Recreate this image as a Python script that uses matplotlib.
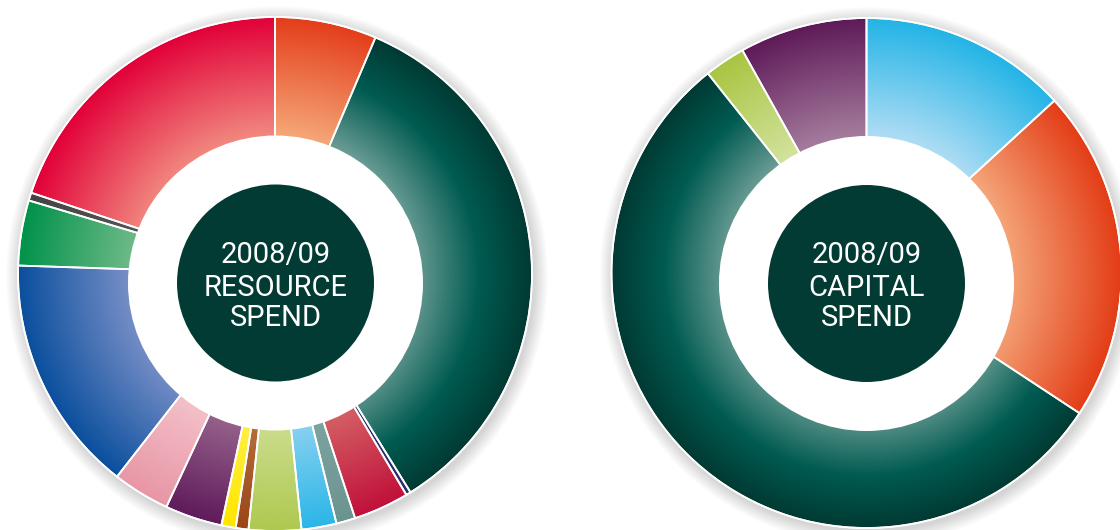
import numpy as np
import matplotlib
matplotlib.use("Agg")
import matplotlib.pyplot as plt
import matplotlib.colors as mcolors
from matplotlib.patches import Circle

# share of spend (%), clockwise from 12 o'clock
resource_share = [6.4, 34.8, 0.3, 3.5, 1.2, 2.2, 3.3, 0.8, 0.9, 3.6, 3.6, 15.0, 4.1, 0.5, 19.9]
resource_inner = ["#f5a677", "#6a9c94", "#2b2d6e", "#d66a6a", "#7fa5a1", "#95d4f2", "#cfdf95",
                  "#b87440", "#fff04a", "#9c6c92", "#f5c6cd", "#7d92c9", "#72bb8a", "#555555", "#f1877e"]
resource_mid = [None, "#005b51", None, None, None, None, None,
                None, None, None, None, None, None, None, None]
resource_outer = ["#e43d1b", "#003a33", "#2b2d6e", "#c1103a", "#6b9490", "#2ab6e7", "#aec94f",
                  "#9a4516", "#ffe600", "#5f1a5a", "#e896a6", "#0a4f9d", "#00924a", "#444444", "#e20038"]

capital_share = [13.2, 21.1, 55.1, 2.6, 8.1]
capital_inner = ["#acdcf4", "#f5a67a", "#6a9c94", "#d2e29c", "#a47a9c"]
capital_mid = [None, None, "#005b51", None, None]
capital_outer = ["#22b4e6", "#e33c16", "#003a33", "#a9c542", "#5e1a58"]

resource_title = ["2008/09", "RESOURCE", "SPEND"]
capital_title = ["2008/09", "CAPITAL", "SPEND"]

fig = plt.figure(figsize=(11.2, 5.3), dpi=100)
ax = fig.add_axes([0, 0, 1, 1])


def donut(shares, inner_cols, mid_cols, outer_cols, center, radius, hole_center, title):
    cx, cy = center
    # soft shadow round the rim
    for i in range(14):
        ax.add_patch(Circle((cx + 2, cy - 3), radius + 1 + i * 1.0, color="k",
                            alpha=0.011, lw=0, zorder=0))
    wedges, _ = ax.pie(shares, center=center, radius=radius, startangle=90,
                       counterclock=False, frame=True,
                       wedgeprops=dict(edgecolor="white", linewidth=1.3))
    n = 500
    gx = np.linspace(cx - radius, cx + radius, n)
    gy = np.linspace(cy - radius, cy + radius, n)
    xx, yy = np.meshgrid(gx, gy)
    t = np.clip((np.hypot(xx - cx, yy - cy) - 140) / (radius - 140), 0, 1)[..., None]
    for w, ci, cm, co in zip(wedges, inner_cols, mid_cols, outer_cols):
        a = np.array(mcolors.to_rgb(ci))
        b = np.array(mcolors.to_rgb(co))
        if cm is None:
            img = a * (1 - t) + b * t
        else:
            m = np.array(mcolors.to_rgb(cm))
            s1 = np.clip(t / 0.55, 0, 1)
            s2 = np.clip((t - 0.55) / 0.45, 0, 1)
            img = np.where(t < 0.55, a * (1 - s1) + m * s1, m * (1 - s2) + b * s2)
        im = ax.imshow(img, extent=(cx - radius, cx + radius, cy - radius, cy + radius),
                       origin="lower", zorder=1, interpolation="bilinear")
        im.set_clip_path(w)
        w.set_facecolor("none")
        w.set_zorder(2)
    ax.add_patch(Circle(center, radius, fill=False, ec="white", lw=1.2, zorder=2))
    ax.add_patch(Circle(hole_center, 147.5, color="white", lw=0, zorder=3))
    ax.add_patch(Circle(hole_center, 98.5, color="#013b33", lw=0, zorder=4))
    for line, y in zip(title, [267, 234.5, 203.5]):
        ax.text(hole_center[0], y, line, color="white", fontsize=21,
                ha="center", va="baseline", zorder=5, family=["Roboto", "DejaVu Sans"])


donut(resource_share, resource_inner, resource_mid, resource_outer,
      (275, 256), 257, (275.5, 247), resource_title)
donut(capital_share, capital_inner, capital_mid, capital_outer,
      (866.5, 257), 255, (866.5, 246.5), capital_title)

ax.set_xlim(0, 1120)
ax.set_ylim(0, 530)
ax.set_aspect("equal")
ax.axis("off")
fig.savefig("out.png", dpi=100)
